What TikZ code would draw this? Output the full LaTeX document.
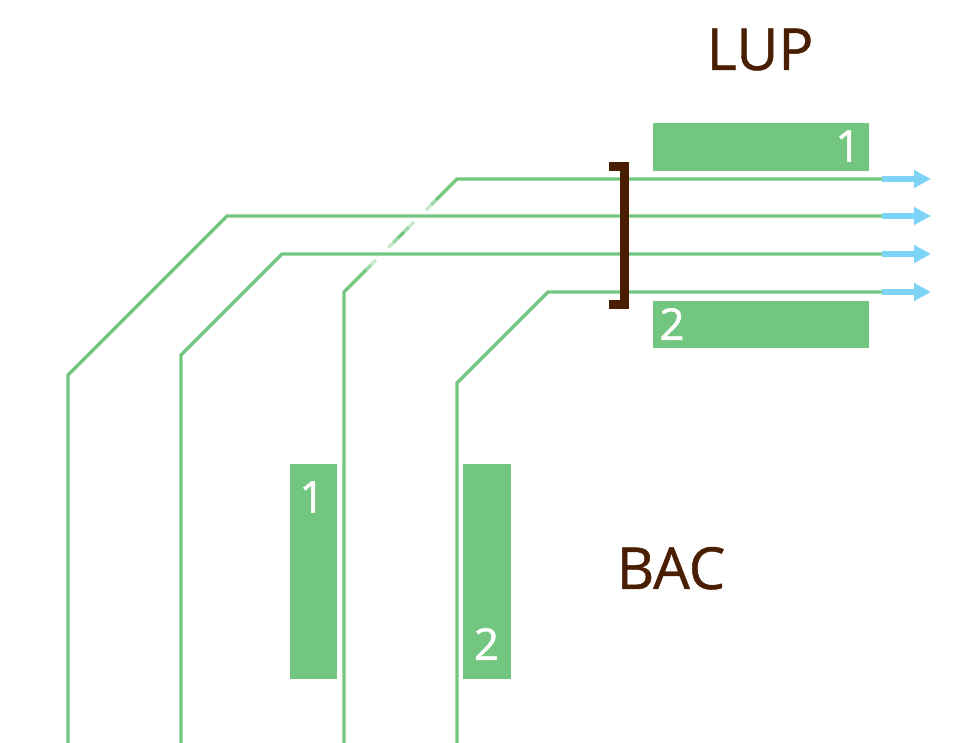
\documentclass[tikz,border=0pt]{standalone}
\usepackage{fontspec}
\setmainfont{Open Sans}
\newfontfamily\zonefont[FakeBold=0.8]{Open Sans}
\newfontfamily\numfont[FakeBold=1.2]{Open Sans}
\usepackage{tikz}
\usetikzlibrary{arrows.meta}

\definecolor{trackgreen}{RGB}{115,198,127}
\definecolor{flowblue}{RGB}{125,212,247}
\definecolor{darkbrown}{RGB}{74,30,2}

\tikzset{
    track/.style={draw=trackgreen, line width=0.066cm, line join=miter},
    hidegap/.style={draw=white, line width=0.11cm},
    flow/.style={draw=flowblue, line width=0.11cm, -{Triangle[length=0.34cm, width=0.34cm]}},
    sidebox/.style={rectangle, fill=trackgreen, inner sep=0pt},
    boxnum/.style={text=white, font=\numfont\fontsize{25}{30}\selectfont, inner sep=0pt},
    zonename/.style={text=darkbrown, font=\zonefont\fontsize{33}{40}\selectfont, inner sep=0pt, anchor=base}
}

\begin{document}
\begin{tikzpicture}[x=0.02cm, y=-0.02cm]
                \useasboundingbox (0,0) rectangle (958,743);

                \node[zonename] (lup) at (760,70) {LUP};
                \node[zonename] (bac) at (671,589) {BAC};

                \node[sidebox, minimum width=4.32cm, minimum height=0.96cm] (lupone) at (761,147) {};
                \node[boxnum] (luponenum) at (848,146) {1};
                \node[sidebox, minimum width=4.32cm, minimum height=0.94cm] (luptwo) at (761,324.5) {};
                \node[boxnum] (luptwonum) at (672,324) {2};

                \node[sidebox, minimum width=0.94cm, minimum height=4.3cm] (bacone) at (313.5,571.5) {};
                \node[boxnum] (baconenum) at (312,497) {1};
                \node[sidebox, minimum width=0.96cm, minimum height=4.3cm] (bactwo) at (487,571.5) {};
                \node[boxnum] (bactwonum) at (486.5,644) {2};

                \draw[track] (344,743) -- (344,292) -- (457,179) -- (882,179);
                \draw[hidegap, opacity=0.3] (436,200) -- (404,232);
                \draw[hidegap, opacity=0.45] (431,205) -- (409,227);
                \draw[hidegap] (426,210) -- (414,222);
                \draw[hidegap, opacity=0.3] (398,238) -- (366,270);
                \draw[hidegap, opacity=0.45] (393,243) -- (371,265);
                \draw[hidegap] (388,248) -- (376,260);

                \draw[track] (68,743) -- (68,375) -- (227,216) -- (882,216);
                \draw[track] (181,743) -- (181,355) -- (282,254) -- (882,254);
                \draw[track] (457,743) -- (457,383) -- (548,292) -- (882,292);

                \coordinate (outa) at (931,179);
                \coordinate (outb) at (931,216);
                \coordinate (outc) at (931,254);
                \coordinate (outd) at (931,292);
                \draw[flow] (882,179) -- (outa);
                \draw[flow] (882,216) -- (outb);
                \draw[flow] (882,254) -- (outc);
                \draw[flow] (882,292) -- (outd);

                \draw[draw=darkbrown, line width=0.18cm, line join=miter] (609,166.5) -- (624.5,166.5) -- (624.5,304.5) -- (609,304.5);
            \end{tikzpicture}
\end{document}
